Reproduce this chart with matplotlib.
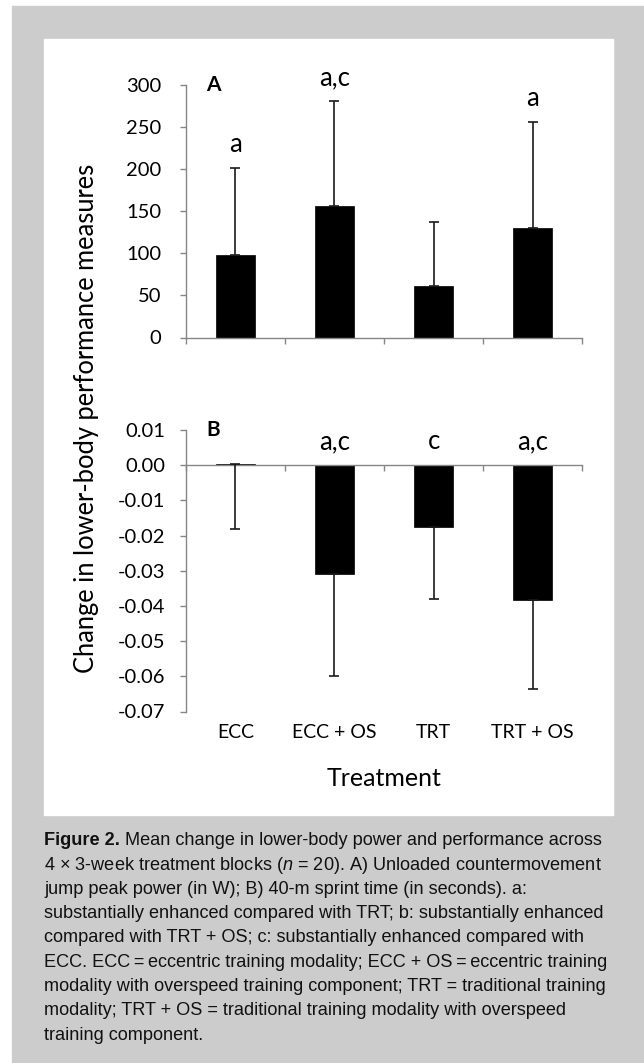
import numpy as np
import matplotlib.pyplot as plt
from matplotlib.patches import Rectangle
from matplotlib.transforms import blended_transform_factory

# data
treatments = ["ECC", "ECC + OS", "TRT", "TRT + OS"]
power_mean = [98, 156, 61, 130]          # panel A, change in peak power (W)
power_sd = [103, 125, 76, 126]
sprint_mean = [0.0003, -0.031, -0.0175, -0.0382]   # panel B, change in 40-m time (s)
sprint_sd = [0.0183, 0.029, 0.0204, 0.0254]
marks_a = ["a", "a,c", "", "a"]
marks_b = ["", "a,c", "c", "a,c"]
ticks_a = [0, 50, 100, 150, 200, 250, 300]
ticks_b = [-0.07, -0.06, -0.05, -0.04, -0.03, -0.02, -0.01, 0.0, 0.01]

caption_head = "Figure 2."
caption = [
    " Mean change in lower-body power and performance across",
    "4 \u00d7 3-week treatment blocks ($n$ = 20). A) Unloaded countermovement",
    "jump peak power (in W); B) 40-m sprint time (in seconds). a:",
    "substantially enhanced compared with TRT; b: substantially enhanced",
    "compared with TRT + OS; c: substantially enhanced compared with",
    "ECC. ECC\u2009=\u2009eccentric training modality; ECC + OS\u2009=\u2009eccentric training",
    "modality with overspeed training component; TRT = traditional training",
    "modality; TRT + OS = traditional training modality with overspeed",
    "training component.",
]

plt.rcParams["font.family"] = ["Lato", "DejaVu Sans"]
plt.rcParams["axes.unicode_minus"] = False
plt.rcParams["mathtext.fontset"] = "custom"
plt.rcParams["mathtext.it"] = "Liberation Sans:italic"
plt.rcParams["mathtext.rm"] = "Liberation Sans"

W, H = 644, 1063
fig = plt.figure(figsize=(W / 100, H / 100), dpi=100, facecolor="white")


def box(x0, y0, x1, y1):
    # pixel box (top-left origin) -> figure fraction [l, b, w, h]
    return [x0 / W, 1 - y1 / H, (x1 - x0) / W, (y1 - y0) / H]


l, b, w, h = box(12, 6, W, H)
fig.add_artist(Rectangle((l, b), w, h, transform=fig.transFigure, color="#cccccc", zorder=0))
l, b, w, h = box(44, 39, 613, 815)
fig.add_artist(Rectangle((l, b), w, h, transform=fig.transFigure, color="white", zorder=0))

axA = fig.add_axes(box(185.7, 85, 582.3, 337.5))
axB = fig.add_axes(box(185.7, 430, 582.3, 711.5))
x = np.arange(len(treatments)) + 0.5
spine_col = "#868686"

for ax in (axA, axB):
    ax.set_facecolor("none")
    ax.spines["top"].set_visible(False)
    ax.spines["right"].set_visible(False)
    for s in ("left", "bottom"):
        ax.spines[s].set_color(spine_col)
        ax.spines[s].set_linewidth(1.0)
    ax.set_xlim(0, len(treatments))
    ax.set_xticks(np.arange(len(treatments) + 1))
    ax.set_xticklabels([])
    ax.tick_params(axis="both", color=spine_col, width=1.0, length=4.5, labelsize=14.5)

# panel A
axA.bar(x, power_mean, width=0.39, color="black", edgecolor="black", linewidth=0.5, zorder=2)
axA.errorbar(x, power_mean, yerr=[np.zeros(4), power_sd], fmt="none", ecolor="#1a1a1a",
             elinewidth=1.2, capsize=3.3, capthick=1.2, zorder=3)
axA.set_ylim(0, 300)
axA.set_yticks(ticks_a)
axA.tick_params(axis="y", pad=13)
for xi, m, s, lab in zip(x, power_mean, power_sd, marks_a):
    axA.text(xi, m + s + 19, lab, ha="center", va="baseline", fontsize=18.5)
axA.text(0.21, 300, "A", ha="left", va="center", fontsize=15, fontweight="bold")

# panel B
axB.bar(x, sprint_mean, width=0.39, color="black", edgecolor="black", linewidth=0.5, zorder=2)
axB.errorbar(x, sprint_mean, yerr=[sprint_sd, np.zeros(4)], fmt="none", ecolor="#1a1a1a",
             elinewidth=1.2, capsize=3.3, capthick=1.2, zorder=3)
axB.set_ylim(-0.07, 0.01)
axB.set_yticks(ticks_b)
axB.set_yticklabels(["%.2f" % t for t in ticks_b])
axB.spines["bottom"].set_position(("data", 0))
axB.tick_params(axis="y", pad=10)
for xi, lab in zip(x, marks_b):
    axB.text(xi, 0.0045, lab, ha="center", va="baseline", fontsize=18.5)
axB.text(0.21, 0.01, "B", ha="left", va="center", fontsize=15, fontweight="bold")

trans = blended_transform_factory(axB.transData, fig.transFigure)
for xi, name in zip(x, treatments):
    fig.text(xi, 1 - 733 / H, name, transform=trans, ha="center", va="center", fontsize=14)
fig.text(384 / W, 1 - 779 / H, "Treatment", ha="center", va="center", fontsize=18)
fig.text(87 / W, 1 - 418.5 / H, "Change in lower-body performance measures", rotation=90,
         ha="center", va="center", fontsize=18.4)

# caption
cap_font = "Liberation Sans"
cap_size = 13.1
cap_col = "#111111"
y0 = 840.7
t = fig.text(44 / W, 1 - y0 / H, caption_head, ha="left", va="center", fontsize=cap_size,
             family=cap_font, fontweight="bold", color=cap_col)
plt.annotate(caption[0], xy=(1, 0), xycoords=t, va="bottom", ha="left", fontsize=cap_size,
             family=cap_font, color=cap_col, annotation_clip=False)
for i, line in enumerate(caption[1:]):
    fig.text(44 / W, 1 - (y0 + 24.3 * (i + 1)) / H, line, ha="left", va="center",
             fontsize=cap_size, family=cap_font, color=cap_col)

fig.savefig("out.png", dpi=100, facecolor="white")
